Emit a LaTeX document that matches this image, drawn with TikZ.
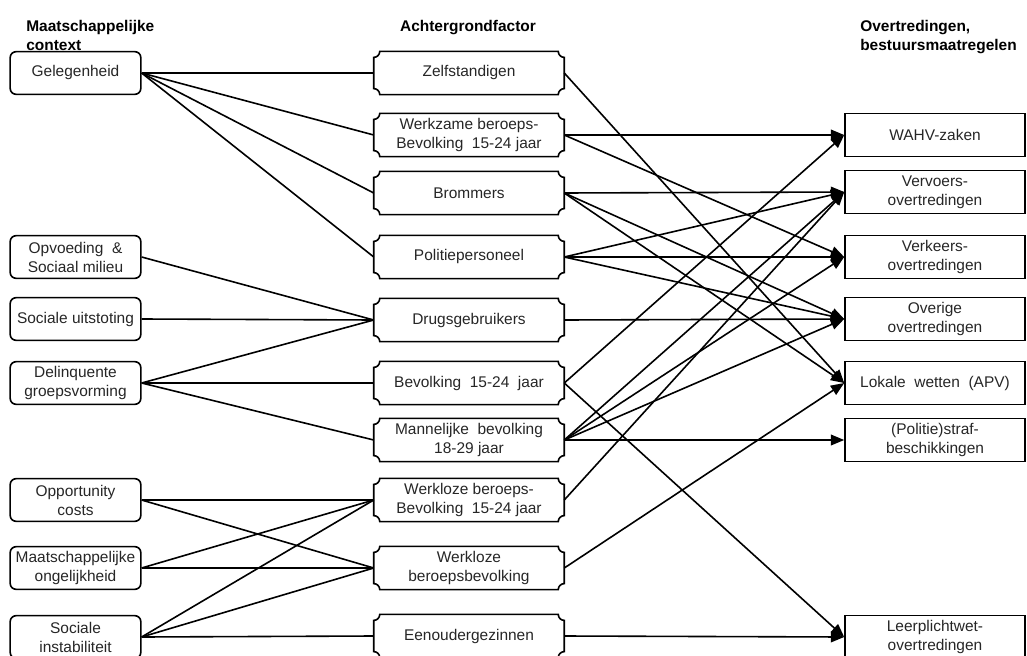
\documentclass[tikz,border=0pt]{standalone}
\usepackage{fontspec}
\setmainfont{Liberation Sans}
\usetikzlibrary{arrows.meta}

% concave corners of the middle column
\newcommand\plaque[1]{%
  \draw[lnk] ([xshift=4.5pt]#1.north west) -- ([xshift=-4.5pt]#1.north east)
    arc[start angle=180, end angle=270, radius=4.5pt]
    -- ([yshift=4.5pt]#1.south east)
    arc[start angle=90, end angle=180, radius=4.5pt]
    -- ([xshift=4.5pt]#1.south west)
    arc[start angle=0, end angle=90, radius=4.5pt]
    -- ([yshift=-4.5pt]#1.north west)
    arc[start angle=270, end angle=360, radius=4.5pt]
    -- cycle;}

\begin{document}
\begin{tikzpicture}[
  x=0.75pt,
  y=0.75pt,
  font=\fontsize{11.6pt}{14.25pt}\selectfont,
  lnk/.style={line width=1.2pt},
  arr/.style={lnk, -{Triangle[length=10pt,width=8pt]}},
  ctx/.style={draw, lnk, rounded corners=4.5pt, align=center, inner sep=1pt, text=black!85, minimum width=98pt, minimum height=32pt},
  factor/.style={align=center, inner sep=1pt, text=black!85, minimum width=142.5pt, minimum height=32pt},
  viol/.style={draw, lnk, align=center, inner sep=1pt, text=black!85, minimum width=135pt, minimum height=32pt},
  head/.style={font=\fontsize{11.6pt}{14.25pt}\selectfont\bfseries, inner sep=0pt, align=left}
]
\useasboundingbox (0,0) rectangle (1027,-656);

% Koppen
\node[head, anchor=north west] (hctx) at (26,-20) {Maatschappelijke\\context};
\node[head, anchor=north] (hfac) at (468,-20) {Achtergrondfactor};
\node[head, anchor=north west] (hovt) at (860,-20) {Overtredingen,\\bestuursmaatregelen};

% Maatschappelijke context (links)
\node[ctx] (gel) at (75.5,-73)  {Gelegenheid};
\node[ctx] (opv) at (75.5,-257) {Opvoeding \ \&\\Sociaal milieu};
\node[ctx] (soc) at (75.5,-319) {Sociale uitstoting};
\node[ctx] (del) at (75.5,-383) {Delinquente\\groepsvorming};
\node[ctx] (opp) at (75.5,-500) {Opportunity\\costs};
\node[ctx] (mng) at (75.5,-568) {Maatschappelijke\\ongelijkheid};
\node[ctx] (sin) at (75.5,-637) {Sociale\\instabiliteit};

% Achtergrondfactoren (midden)
\node[factor] (zelf)  at (469,-73)  {Zelfstandigen};
\node[factor] (werk)  at (469,-135) {Werkzame beroeps-\\Bevolking \ 15-24 jaar};
\node[factor] (brom)  at (469,-193) {Brommers};
\node[factor] (pol)   at (469,-257) {Politiepersoneel};
\node[factor] (drugs) at (469,-320) {Drugsgebruikers};
\node[factor] (bev)   at (469,-383) {Bevolking \ 15-24 \ jaar};
\node[factor] (man)   at (469,-440) {Mannelijke \ bevolking\\18-29 jaar};
\node[factor] (wlj)   at (469,-500) {Werkloze beroeps-\\Bevolking \ 15-24 jaar};
\node[factor] (wlb)   at (469,-568) {Werkloze\\beroepsbevolking};
\node[factor] (een)   at (469,-636) {Eenoudergezinnen};
\foreach \n in {zelf,werk,brom,pol,drugs,bev,man,wlj,wlb,een}
  \plaque{\n};

% Overtredingen (rechts)
\node[viol] (wahv)  at (935,-135) {WAHV-zaken};
\node[viol] (verv)  at (935,-192) {Vervoers-\\overtredingen};
\node[viol] (verk)  at (935,-257) {Verkeers-\\overtredingen};
\node[viol] (over)  at (935,-319) {Overige\\overtredingen};
\node[viol] (lok)   at (935,-383) {Lokale \ wetten \ (APV)};
\node[viol] (straf) at (935,-440) {(Politie)straf-\\beschikkingen};
\node[viol] (leer)  at (935,-637) {Leerplichtwet-\\overtredingen};

% Context -> achtergrondfactor
\draw[lnk] (gel.east) -- (zelf.west);
\draw[lnk] (gel.east) -- (werk.west);
\draw[lnk] (gel.east) -- (brom.west);
\draw[lnk] (gel.east) -- (pol.west);
\draw[lnk] (opv.east) -- (drugs.west);
\draw[lnk] (soc.east) -- (drugs.west);
\draw[lnk] (del.east) -- (drugs.west);
\draw[lnk] (del.east) -- (bev.west);
\draw[lnk] (del.east) -- (man.west);
\draw[lnk] (opp.east) -- (wlj.west);
\draw[lnk] (opp.east) -- (wlb.west);
\draw[lnk] (mng.east) -- (wlj.west);
\draw[lnk] (mng.east) -- (wlb.west);
\draw[lnk] (sin.east) -- (wlj.west);
\draw[lnk] (sin.east) -- (wlb.west);
\draw[lnk] (sin.east) -- (een.west);

% Achtergrondfactor -> overtredingen
\draw[arr] (zelf.east) -- (lok.west);
\draw[arr] (werk.east) -- (wahv.west);
\draw[arr] (werk.east) -- (verk.west);
\draw[arr] (brom.east) -- (verv.west);
\draw[arr] (brom.east) -- (over.west);
\draw[arr] (brom.east) -- (lok.west);
\draw[arr] (pol.east) -- (verv.west);
\draw[arr] (pol.east) -- (verk.west);
\draw[arr] (pol.east) -- (over.west);
\draw[arr] (drugs.east) -- (over.west);
\draw[arr] (bev.east) -- (wahv.west);
\draw[arr] (bev.east) -- (leer.west);
\draw[arr] (man.east) -- (verv.west);
\draw[arr] (man.east) -- (verk.west);
\draw[arr] (man.east) -- (over.west);
\draw[arr] (man.east) -- (straf.west);
\draw[arr] (wlj.east) -- (verv.west);
\draw[arr] (wlb.east) -- (lok.west);
\draw[arr] (een.east) -- (leer.west);

\end{tikzpicture}
\end{document}
